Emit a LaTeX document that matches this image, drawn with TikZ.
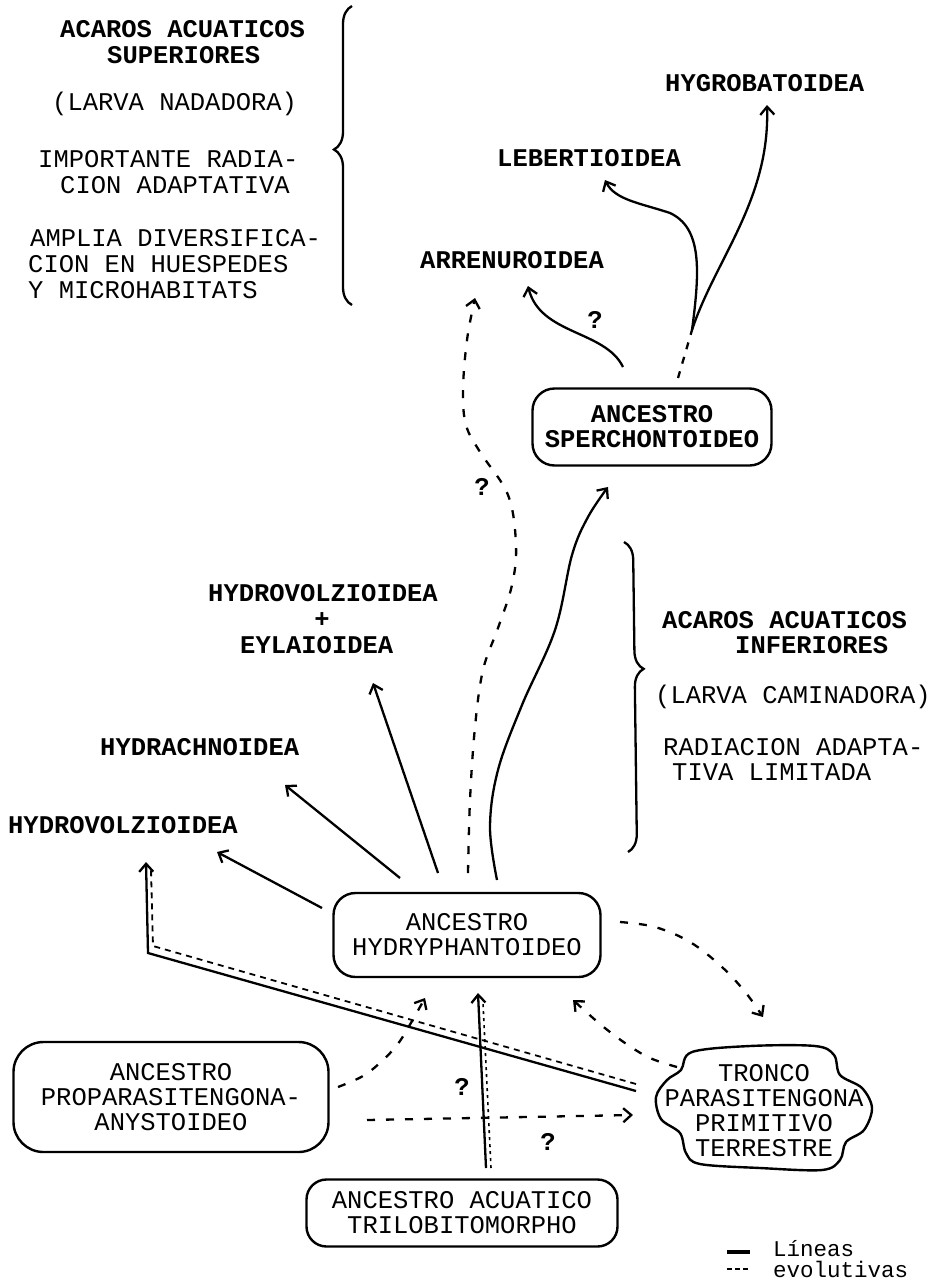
\documentclass[tikz,border=0pt]{standalone}
\usepackage{fontspec}
\setmonofont{Liberation Mono}
\usetikzlibrary{arrows.meta,decorations.pathreplacing}
\newcommand{\diafs}{\fontsize{25.5}{25}\selectfont}
\begin{document}
\begin{tikzpicture}[x=1pt,y=-1pt,
  txt/.style={font=\diafs\ttfamily, inner sep=0pt, anchor=west},
  btxt/.style={font=\diafs\ttfamily\bfseries, inner sep=0pt, anchor=west},
  qm/.style={font=\diafs\ttfamily\bfseries, inner sep=0pt},
  legtxt/.style={font=\fontsize{22.5}{21}\selectfont\ttfamily, inner sep=0pt, anchor=base west},
  boxn/.style={draw, line width=2.4pt, rounded corners=22pt, align=center, font=\diafs\ttfamily, inner sep=0pt},
  ln/.style={line width=2.3pt},
  arr/.style={ln, -{Straight Barb[length=8pt,width=14pt]}},
  dsh/.style={line width=2.3pt, dash pattern=on 8pt off 11pt},
  dsha/.style={dsh, -{Straight Barb[length=8pt,width=14pt]}},
  dbl/.style={line width=1.8pt, dash pattern=on 6pt off 5pt},
  bracestyle/.style={line width=2.3pt, decorate},
]
\fill[white] (0,0) rectangle (935,1282);
\useasboundingbox (0,0) rectangle (935,1282);

% ---- top-left text block
\node[btxt] (s1) at (60,29) {ACAROS ACUATICOS};
\node[btxt] (s2) at (107,55) {SUPERIORES};
\node[txt] (s3) at (52,104) {(LARVA NADADORA)};
\node[txt] (s4) at (38,159) {IMPORTANTE RADIA-};
\node[txt] (s5) at (60,185) {CION ADAPTATIVA};
\node[txt] (s6) at (30,238) {AMPLIA DIVERSIFICA-};
\node[txt] (s7) at (28,264) {CION EN HUESPEDES};
\node[txt] (s8) at (28,290) {Y MICROHABITATS};
\coordinate (b1s) at (352,305);
\coordinate (b1e) at (352,6);
\draw[bracestyle, decoration={brace, amplitude=18pt, aspect=0.52}] (b1s) -- (b1e);

% ---- right text block
\node[btxt] (i1) at (662,620) {ACAROS ACUATICOS};
\node[btxt] (i2) at (735,645) {INFERIORES};
\node[txt] (i3) at (655,697) {(LARVA CAMINADORA)};
\node[txt] (i4) at (663,747) {RADIACION ADAPTA-};
\node[txt] (i5) at (672,772) {TIVA LIMITADA};
\coordinate (b2s) at (624,542);
\coordinate (b2e) at (628,852);
\draw[bracestyle, decoration={brace, amplitude=18pt, aspect=0.41}] (b2s) -- (b2e);

% ---- taxa
\node[btxt] (hygro) at (665,83) {HYGROBATOIDEA};
\node[btxt] (leber) at (497,158) {LEBERTIOIDEA};
\node[btxt] (arren) at (420,260) {ARRENUROIDEA};
\node[btxt] (hvz1) at (208,593) {HYDROVOLZIOIDEA};
\node[btxt, anchor=center] (plus) at (322,620) {+};
\node[btxt] (eyl) at (240,645) {EYLAIOIDEA};
\node[btxt] (hydra) at (100,747) {HYDRACHNOIDEA};
\node[btxt] (hvz2) at (8,825) {HYDROVOLZIOIDEA};

% ---- boxes
\node[boxn, font=\diafs\ttfamily\bfseries, minimum width=239pt, minimum height=77pt] (sper) at (652,427) {ANCESTRO\\SPERCHONTOIDEO};
\node[boxn, minimum width=267pt, minimum height=84pt] (hyd) at (467,935) {ANCESTRO\\HYDRYPHANTOIDEO};
\node[boxn, rounded corners=30pt, minimum width=315pt, minimum height=110pt] (prop) at (171,1097) {ANCESTRO\\PROPARASITENGONA-\\ANYSTOIDEO};
\node[boxn, rounded corners=20pt, minimum width=311pt, minimum height=67pt] (tri) at (462,1213) {ANCESTRO ACUATICO\\TRILOBITOMORPHO};
\node[align=center, font=\diafs\ttfamily, inner sep=0pt] (tronco) at (764,1111) {TRONCO\\PARASITENGONA\\PRIMITIVO\\TERRESTRE};
\draw[line width=2.4pt] plot[smooth cycle, tension=0.55] coordinates {
 (692,1052) (750,1046) (815,1046) (834,1055) (840,1075) (862,1088) (872,1108)
 (864,1130) (846,1142) (840,1160) (822,1170) (760,1168) (700,1164) (686,1153)
 (680,1133) (661,1119) (656,1097) (667,1080) (681,1070)};

% ---- connectors from Sperchontoideo
\coordinate (a1) at (623,367);
\coordinate (a2) at (528,286);
\draw[arr] (a1) .. controls (605,330) and (540,335) .. (a2);
\coordinate (fk0) at (678,378);
\coordinate (fk) at (692,330);
\draw[dsh, dash pattern=on 7pt off 8pt] (fk0) -- (fk);
\coordinate (lb) at (605,180);
\draw[arr] (fk) .. controls (700,270) and (702,228) .. (670,213) .. controls (640,203) and (615,200) .. (lb);
\coordinate (hg) at (767,105);
\draw[arr] (fk) .. controls (715,260) and (770,200) .. (hg);

% ---- long dashed from Hydryphantoideo to Arrenuroidea
\coordinate (d1) at (468,873);
\coordinate (d2) at (475,298);
\draw[dsha] plot[smooth, tension=0.6] coordinates {(d1) (470,800) (475,727) (483,670) (498,628) (512,585) (516,545) (508,495) (480,452) (466,425) (463,390) (467,340) (d2)};

% ---- solid Hydryphantoideo -> Sperchontoideo
\coordinate (e1) at (497,880);
\coordinate (e2) at (608,487);
\draw[arr] plot[smooth, tension=0.6] coordinates {(e1) (490,827) (498,770) (522,705) (555,630) (572,555) (588,517) (e2)};

% ---- straight arrows
\coordinate (f1) at (438,873); \coordinate (f2) at (373,683);
\draw[arr] (f1) -- (f2);
\coordinate (g1) at (400,878); \coordinate (g2) at (285,785);
\draw[arr] (g1) -- (g2);
\coordinate (h1) at (322,908); \coordinate (h2) at (217,852);
\draw[arr] (h1) -- (h2);

% ---- double line Tronco -> Hydrovolzioidea
\coordinate (k1) at (636,1091); \coordinate (k2) at (148,953); \coordinate (k3) at (146,862);
\draw[arr] (k1) -- (k2) -- (k3);
\coordinate (m1) at (636,1084); \coordinate (m2) at (153,946); \coordinate (m3) at (151,870);
\draw[dbl] (m1) -- (m2) -- (m3);

% ---- vertical Trilobitomorpho -> Hydryphantoideo
\coordinate (v1) at (486,1168); \coordinate (v2) at (478,993);
\draw[arr] (v1) -- (v2);
\coordinate (w1) at (491,1168); \coordinate (w2) at (483,1003);
\draw[line width=1.6pt, dash pattern=on 3pt off 4pt] (w1) -- (w2);

% ---- dashed Proparasitengona -> Hydryphantoideo
\coordinate (p1) at (338,1087); \coordinate (p2) at (425,998);
\draw[dsha] plot[smooth, tension=0.6] coordinates {(p1) (363,1076) (382,1061) (397,1045) (408,1028) (p2)};

% ---- dashed Proparasitengona -> Tronco
\coordinate (q1) at (367,1120); \coordinate (q2) at (633,1115);
\draw[dsha] (q1) -- (q2);

% ---- dashed Hydryphantoideo -> Tronco
\coordinate (r1) at (620,922); \coordinate (r2) at (763,1017);
\draw[dsha] plot[smooth, tension=0.6] coordinates {(r1) (655,927) (690,942) (722,967) (746,993) (r2)};

% ---- dashed Tronco -> Hydryphantoideo
\coordinate (t1) at (677,1067); \coordinate (t2) at (573,1000);
\draw[dsha] plot[smooth, tension=0.6] coordinates {(t1) (650,1058) (625,1043) (600,1024) (t2)};

% ---- question marks
\node[qm] (q_a) at (595,320) {?};
\node[qm] (q_b) at (482,487) {?};
\node[qm] (q_c) at (462,1087) {?};
\node[qm] (q_d) at (548,1142) {?};

% ---- legend
\coordinate (l1) at (727,1252); \coordinate (l2) at (750,1252);
\draw[line width=3.5pt] (l1) -- (l2);
\coordinate (l3) at (727,1269); \coordinate (l4) at (750,1269);
\draw[line width=2.6pt, dash pattern=on 5pt off 3pt] (l3) -- (l4);
\node[legtxt] (leg1) at (773,1256) {Líneas};
\node[legtxt] (leg2) at (773,1277) {evolutivas};
\end{tikzpicture}
\end{document}
